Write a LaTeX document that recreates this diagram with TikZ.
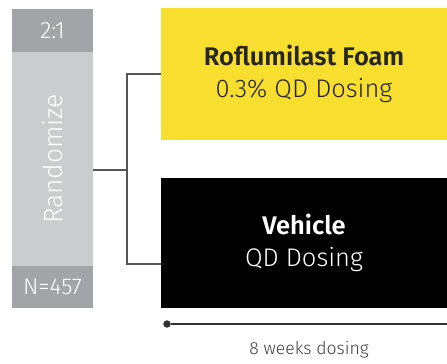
\documentclass[tikz,border=0pt]{standalone}
\usepackage{fontspec}
\setmainfont{Fira Sans}[UprightFont={* Light}, BoldFont={* SemiBold}]
\usepackage{tikz}
\usetikzlibrary{positioning, calc}
\definecolor{darkbar}{HTML}{A2A4A7}
\definecolor{lightbar}{HTML}{CBCCCE}
\definecolor{foamyellow}{HTML}{F8DE2E}
\definecolor{linkgray}{HTML}{555555}
\tikzstyle{bar} = [rectangle, minimum width=1.62cm, inner sep=0pt, outer sep=0pt, text=white]
\tikzstyle{arm} = [rectangle, minimum width=5.72cm, inner sep=0pt, outer sep=0pt, align=center, font=\fontsize{14.5}{18}\selectfont]
\tikzstyle{branch} = [draw=linkgray, line width=0.7pt]
\tikzstyle{timeline} = [draw=black!80, line width=0.7pt]

\begin{document}
\begin{tikzpicture}[x=0.02cm, y=0.02cm]
  \useasboundingbox (0,0) rectangle (447,363);

  % Randomization column (left side)
  \node (ratio) [bar, fill=darkbar, minimum height=0.86cm, font=\fontsize{13.5}{16}\selectfont] at (52.5,332.5) {2:1};
  \node (rand) [bar, fill=lightbar, minimum height=4.28cm, below=0pt of ratio, font=\fontsize{15}{18}\selectfont] {\rotatebox{90}{Randomize}};
  \node (count) [bar, fill=darkbar, minimum height=0.84cm, below=0pt of rand, font=\fontsize{13}{16}\selectfont] {N=457};

  % Treatment arms (right side)
  \node (foam) [arm, fill=foamyellow, minimum height=2.64cm, text=black!85] at (304,289) {\textbf{Roflumilast Foam}\\0.3\% QD Dosing};
  \node (vehicle) [arm, fill=black, minimum height=2.6cm, text=white, below=0.76cm of foam] {\textbf{Vehicle}\\QD Dosing};

  % Branching lines
  \coordinate (split) at (127,193);
  \coordinate (vehin) at (161,99);
  \draw[branch] (rand.east |- split) -- (split);
  \draw[branch] (foam.west) -| (split) |- (vehin);

  % Dosing period
  \node (tstart) [circle, fill=black!80, inner sep=1.5pt] at (167,39) {};
  \coordinate (tend) at (447,39);
  \draw[timeline] (tstart) -- (tend);
  \node (period) [text=black!75, font=\fontsize{10}{12}\selectfont] at (309,13) {8 weeks dosing};

\end{tikzpicture}
\end{document}
